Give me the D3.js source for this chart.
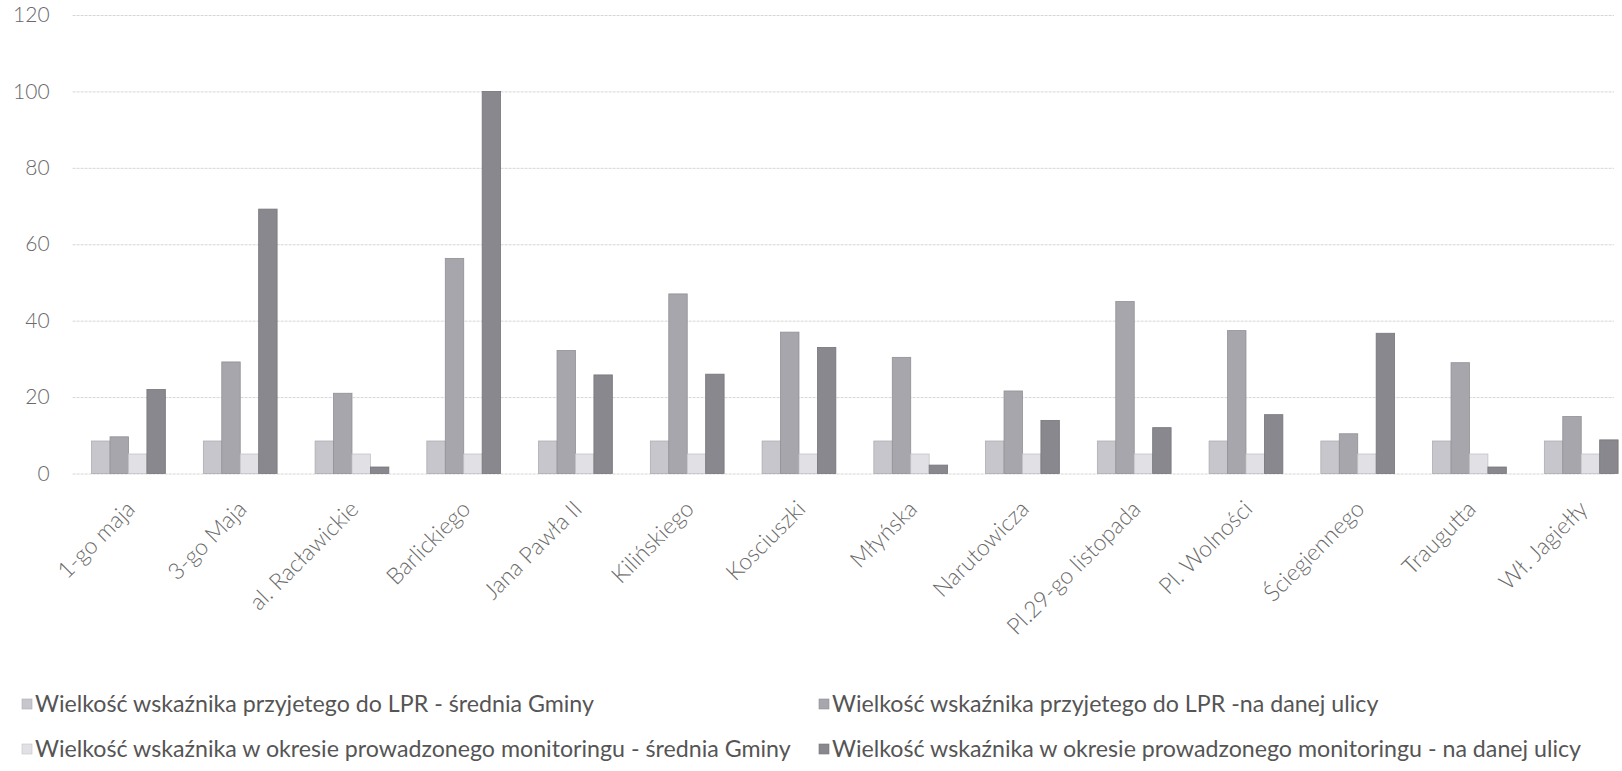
<!DOCTYPE html>
<html>
<head>
<meta charset="utf-8">
<script src="https://cdn.jsdelivr.net/npm/d3@7"></script>
<style>
  html, body { margin: 0; padding: 0; background: #ffffff; }
  svg { display: block; }
  text { font-family: Lato, "Open Sans", sans-serif; }
</style>
</head>
<body>
<svg id="chart" width="1622" height="771"></svg>
<script>
const categories = ["1-go maja", "3-go Maja", "al. Racławickie", "Barlickiego", "Jana Pawła II", "Kilińskiego", "Kosciuszki", "Młyńska", "Narutowicza", "Pl.29-go listopada", "Pl. Wolności", "Ściegiennego", "Traugutta", "Wł. Jagiełły"];
const seriesNames = [
  "Wielkość wskaźnika przyjetego do LPR - średnia Gminy",
  "Wielkość wskaźnika przyjetego do LPR -na danej ulicy",
  "Wielkość wskaźnika w okresie prowadzonego monitoringu - średnia Gminy",
  "Wielkość wskaźnika w okresie prowadzonego monitoringu - na danej ulicy"
];
const lprAvg      = [8.5, 8.5, 8.5, 8.5, 8.5, 8.5, 8.5, 8.5, 8.5, 8.5, 8.5, 8.5, 8.5, 8.5];
const lprStreet   = [9.6, 29.2, 21, 56.3, 32.2, 47, 37, 30.4, 21.6, 45, 37.4, 10.4, 29, 14.9];
const monAvg      = [5.1, 5.1, 5.1, 5.1, 5.1, 5.1, 5.1, 5.1, 5.1, 5.1, 5.1, 5.1, 5.1, 5.1];
const monStreet   = [22, 69.2, 1.7, 100, 25.8, 26, 33, 2.2, 13.9, 12, 15.4, 36.7, 1.7, 8.8];
const yTicks      = [0, 20, 40, 60, 80, 100, 120];

const seriesValues = [lprAvg, lprStreet, monAvg, monStreet];
const colors = ["#c6c6cc", "#a6a6ac", "#e0e0e5", "#88888e"];

const svg = d3.select("#chart");
const left = 72.6, step = 111.75;
const plotRight = left + step * categories.length;
const y = d3.scaleLinear().domain([0, 120]).range([473.5, 15]);
const x0 = d3.scaleBand().domain(categories).range([left, plotRight]).paddingInner(0.34).paddingOuter(0.17);
const x1 = d3.scaleBand().domain(d3.range(4)).range([0, x0.bandwidth()]);

// gridlines + y labels
const yAxis = d3.axisLeft(y).tickValues(yTicks).tickSize(-(1614 - left)).tickPadding(23);
const gy = svg.append("g").attr("transform", `translate(${left},0)`).call(yAxis);
gy.select(".domain").remove();
gy.selectAll(".tick line").attr("stroke", "#d6d6d6").attr("stroke-width", 1).attr("stroke-dasharray", "3,1");
gy.selectAll(".tick text").attr("fill", "#6a6a6a").attr("font-size", 21).attr("font-weight", 300).attr("font-family", "Lato, sans-serif");

// bars
const groups = svg.append("g").selectAll("g").data(categories).join("g")
  .attr("transform", d => `translate(${x0(d)},0)`);
groups.selectAll("rect").data((d, i) => seriesValues.map((s, k) => ({k, v: s[i]}))).join("rect")
  .attr("x", d => x1(d.k))
  .attr("width", x1.bandwidth())
  .attr("y", d => y(d.v))
  .attr("height", d => y(0) - y(d.v))
  .attr("fill", d => colors[d.k])
  .attr("stroke", d => d3.color(colors[d.k]).darker(0.4))
  .attr("stroke-width", 0.8);

// x labels
const xAxis = d3.axisBottom(x0).tickSize(0).tickPadding(0);
const gx = svg.append("g").attr("transform", `translate(0,${y(0)})`).call(xAxis);
gx.select(".domain").remove();
gx.selectAll(".tick text")
  .attr("fill", "#6a6a6a").attr("font-size", 23).attr("font-weight", 300).attr("font-family", "Lato, sans-serif")
  .attr("text-anchor", "end")
  .attr("transform", "translate(8,37) rotate(-45)")
  .attr("dy", "0").attr("y", 0).attr("x", 0);

// legend
const legendPos = [[22, 704], [819, 704], [22, 749], [819, 749]];
const lg = svg.append("g").selectAll("g").data(seriesNames).join("g")
  .attr("transform", (d, i) => `translate(${legendPos[i][0]},${legendPos[i][1]})`);
lg.append("rect").attr("x", 0).attr("y", -5).attr("width", 10).attr("height", 10)
  .attr("fill", (d, i) => colors[i]).attr("stroke", (d, i) => d3.color(colors[i]).darker(0.4)).attr("stroke-width", 0.6);
lg.append("text").attr("x", 13).attr("dy", "0.35em")
  .attr("font-size", 23.2).attr("fill", "#555555").attr("font-family", "Lato, sans-serif")
  .text(d => d);
</script>
</body>
</html>
